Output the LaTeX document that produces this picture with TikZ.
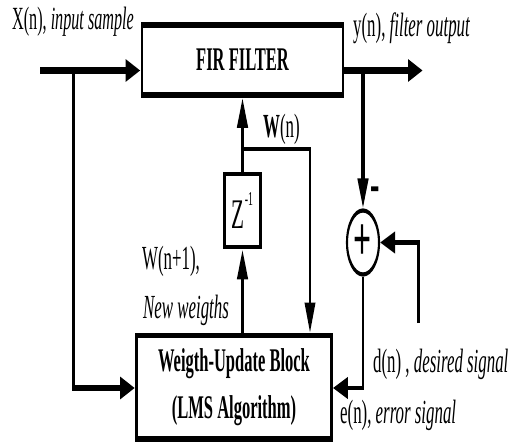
\documentclass[tikz,border=0pt]{standalone}
\usepackage{fontspec}
\setmainfont{Liberation Serif}
\usetikzlibrary{arrows.meta}

\tikzset{
  blk/.style={draw, line width=4pt, inner sep=0pt, align=center,
    font=\fontsize{23.5}{33}\selectfont\bfseries},
  lbl/.style={inner sep=0pt, anchor=base west, font=\fontsize{24}{28}\selectfont},
  sig/.style={line width=4.5pt},
  fbk/.style={line width=3.2pt},
  tip/.style={-{Triangle[length=7.5mm,width=5.2mm]}},
}

\begin{document}
\begin{tikzpicture}[x=2.5mm,y=2.5mm]
  \useasboundingbox (0,0) rectangle (51.4,44.1);
  % drawn twice as wide, then squeezed
  \begin{scope}[transform canvas={xscale=0.5},x=5mm]
    \node[blk, minimum width=100.5mm, minimum height=17.5mm] (fir) at (24.25,38.1) {FIR FILTER};
    \node[blk, minimum width=97.5mm, minimum height=25.9mm] (lms) at (23.4,5.375)
      {Weigth-Update Block\\(LMS Algorithm)};
    \node[blk, line width=3.5pt, minimum width=18mm, minimum height=18.25mm,
      font=\fontsize{30}{30}\selectfont] (z) at (24.25,23.05)
      {Z\raisebox{17pt}{\fontsize{14}{14}\selectfont -1}};
    \node[circle, draw, line width=3pt, minimum size=16mm, inner sep=0pt,
      font=\fontsize{45}{45}\selectfont\bfseries] (sum) at (36.3,19.85) {+};

    \coordinate (xin) at (4.0,37.05);
    \coordinate (xbr) at (7.35,37.05);
    \coordinate (yout) at (42.3,37.05);
    \coordinate (ybr) at (36.3,37.05);
    \coordinate (dsrc) at (41.85,11.8);
    \coordinate (wbr) at (24.25,29.2);
    \coordinate (wdn) at (31.0,29.2);
    \coordinate (ebot) at (36.3,5.3);

    \draw[sig,tip] (xin) -- (fir.west |- xin);
    \draw[sig,tip] (fir.east |- yout) -- (yout);
    \draw[sig,tip] (xbr) |- (lms.west |- ebot);
    \draw[sig,tip] (ybr) -- (sum.north);
    \draw[fbk,tip] (sum.south) |- (lms.east |- ebot);
    \draw[fbk,tip] (dsrc) |- (sum.east);
    \draw[sig,tip] (z.south |- lms.north) -- (z.south);
    \draw[sig,tip] (z.north) -- (z.north |- fir.south);
    \draw[fbk,tip] (wbr) -| (lms.north -| wdn);

    \node[lbl, font=\fontsize{23}{28}\selectfont] (xlbl) at (1.2,41.1) {X(n), \textit{input sample}};
    \node[lbl] (ylbl) at (35.3,40.4) {y(n), \textit{filter output}};
    \node[lbl] (wlbl) at (26.3,30.3) {\textbf{W}(n)};
    \node[lbl] (wnext) at (14.2,17.2) {W(n+1),};
    \node[lbl] (newlbl) at (14.3,12.3) {\textit{New weigths}};
    \node[lbl] (dlbl) at (37.3,6.9) {d(n) , \textit{desired signal}};
    \node[lbl] (elbl) at (34.0,1.8) {e(n), \textit{error signal}};
    \node[inner sep=0pt, font=\fontsize{40}{40}\selectfont\bfseries] (minus) at (37.5,24.6) {-};
  \end{scope}
\end{tikzpicture}
\end{document}
